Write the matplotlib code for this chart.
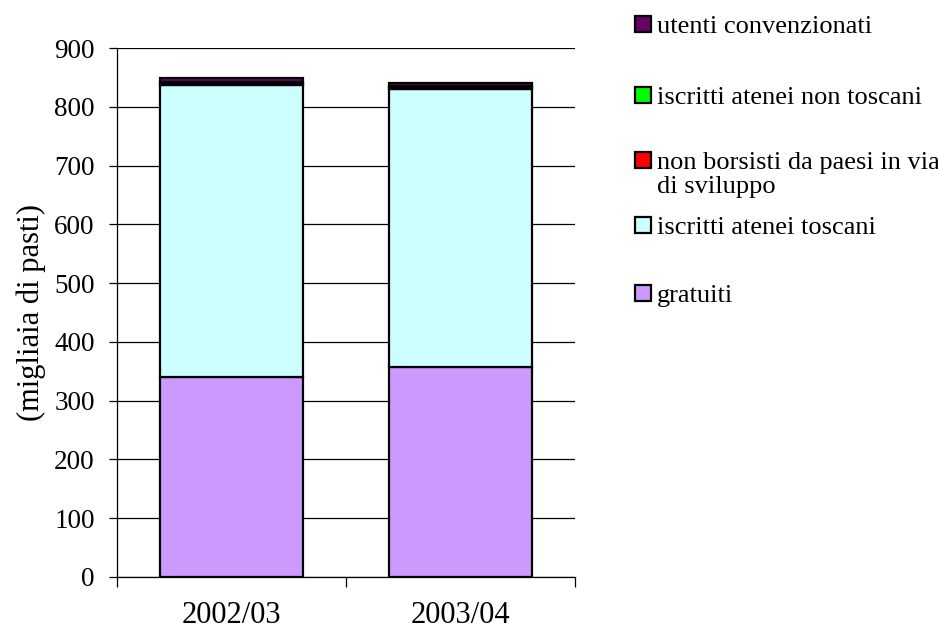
import numpy as np
import matplotlib.pyplot as plt
from matplotlib.patches import Rectangle

years = ['2002/03', '2003/04']
gratuiti = [341, 357]
toscani = [496, 474]
non_borsisti = [2, 2]
non_toscani = [3, 2]
convenzionati = [7, 5]

names = ['gratuiti', 'iscritti atenei toscani',
         'non borsisti da paesi in via\ndi sviluppo',
         'iscritti atenei non toscani', 'utenti convenzionati']
values = [gratuiti, toscani, non_borsisti, non_toscani, convenzionati]
colors = ['#cc99ff', '#ccffff', '#ff0000', '#00ff00', '#660066']

plt.rc('font', family='Liberation Serif')

W, H = 938, 635
fig = plt.figure(figsize=(W / 100, H / 100), dpi=100)
ax = fig.add_axes([117 / W, 1 - 577 / H, 458 / W, 529 / H])

x = np.arange(len(years))
bottom = np.zeros(len(years))
for vals, col in zip(values, colors):
    ax.bar(x, vals, width=0.625, bottom=bottom, color=col,
           edgecolor='black', linewidth=1.6, zorder=3)
    bottom += np.array(vals)

ax.set_xlim(-0.5, 1.5)
ax.set_ylim(0, 900)
ax.set_yticks(np.arange(0, 901, 100))
ax.yaxis.grid(True, color='black', linewidth=0.9, zorder=0)
ax.tick_params(axis='y', labelsize=19.5, length=6, width=0.9, pad=10)

ax.set_xticks([-0.5, 0.5, 1.5])
ax.set_xticklabels([])
ax.set_xticks(x, minor=True)
ax.set_xticklabels(years, minor=True, fontsize=22)
ax.tick_params(axis='x', which='major', length=7, width=0.9)
ax.tick_params(axis='x', which='minor', length=0, pad=17)

for s in ['top', 'right']:
    ax.spines[s].set_visible(False)
ax.spines['left'].set_linewidth(0.9)
ax.spines['bottom'].set_linewidth(0.9)

ax.set_ylabel('(migliaia di pasti)', fontsize=22, labelpad=6)

# legend drawn by hand: marker squares and labels in pixel positions
legend_rows = [(4, 32), (3, 103), (2, 168), (1, 233), (0, 301)]
for idx, base in legend_rows:
    fig.add_artist(Rectangle((635 / W, 1 - base / H), 16 / W, 16 / H,
                             facecolor=colors[idx], edgecolor='black',
                             linewidth=1.6, transform=fig.transFigure))
    lines = names[idx].split('\n')
    for k, line in enumerate(lines):
        fig.text(657 / W, 1 - (base + 1 + 24 * k) / H, line, fontsize=19,
                 va='baseline', ha='left')

fig.savefig('out.png', dpi=100)
